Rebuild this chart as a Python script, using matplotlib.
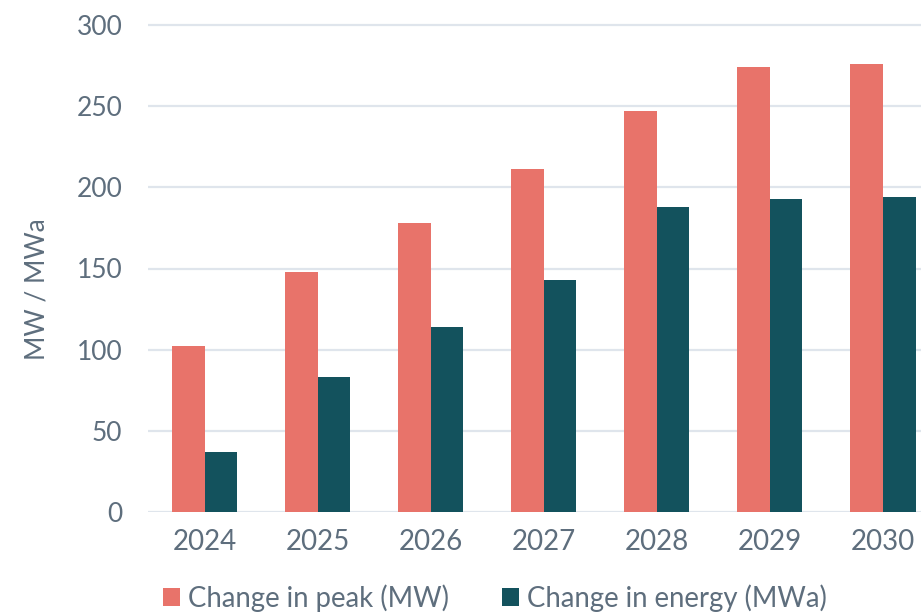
import matplotlib
matplotlib.use("Agg")
import matplotlib.pyplot as plt
import numpy as np

years = ["2024", "2025", "2026", "2027", "2028", "2029", "2030"]
peak = [102, 148, 178, 211, 247, 274, 276]
energy = [37, 83, 114, 143, 188, 193, 194]
series_names = ["Change in peak (MW)", "Change in energy (MWa)"]
yticks = [0, 50, 100, 150, 200, 250, 300]

plt.rcParams['font.family'] = ['Lato', 'DejaVu Sans']
text_color = "#5E6E7D"
c_peak = "#E8736A"
c_energy = "#13525D"
grid_color = "#DFE5EC"

W, H = 921, 612
fig = plt.figure(figsize=(W/100, H/100), dpi=100)
ymax = 302
px_per_unit = (512 - 25) / 300
top_px = 512 - ymax * px_per_unit
ax = fig.add_axes([148/W, 1 - 512/H, 1 - 148/W, (512 - top_px)/H])

x = np.arange(len(years))
bw = 0.288
ax.bar(x - bw/2, peak, bw, color=c_peak, label=series_names[0], zorder=3)
ax.bar(x + bw/2, energy, bw, color=c_energy, label=series_names[1], zorder=3)

ax.set_xlim(-0.5, 6 + 38/113)
ax.set_ylim(0, ymax)
ax.set_yticks(yticks)
ax.set_xticks(x)
ax.set_xticklabels(years)
ax.yaxis.grid(True, color=grid_color, linewidth=1.6, zorder=0)
ax.set_axisbelow(True)
for s in ax.spines.values():
    s.set_visible(False)
ax.tick_params(axis='both', length=0, colors=text_color)
ax.tick_params(axis='y', pad=18.5, labelsize=19)
ax.tick_params(axis='x', pad=12, labelsize=20)
ax.set_ylabel("MW / MWa", fontsize=19, color=text_color)
ax.yaxis.set_label_coords(-0.127, 0.455)

leg = fig.legend(loc='center left', bbox_to_anchor=(152/W, 1 - 598/H), ncol=2,
                 frameon=False, fontsize=19.8, handlelength=0.6, handleheight=0.6,
                 handletextpad=0.3, columnspacing=1.95, borderaxespad=0)
for t in leg.get_texts():
    t.set_color(text_color)

fig.savefig("out.png", dpi=100)
